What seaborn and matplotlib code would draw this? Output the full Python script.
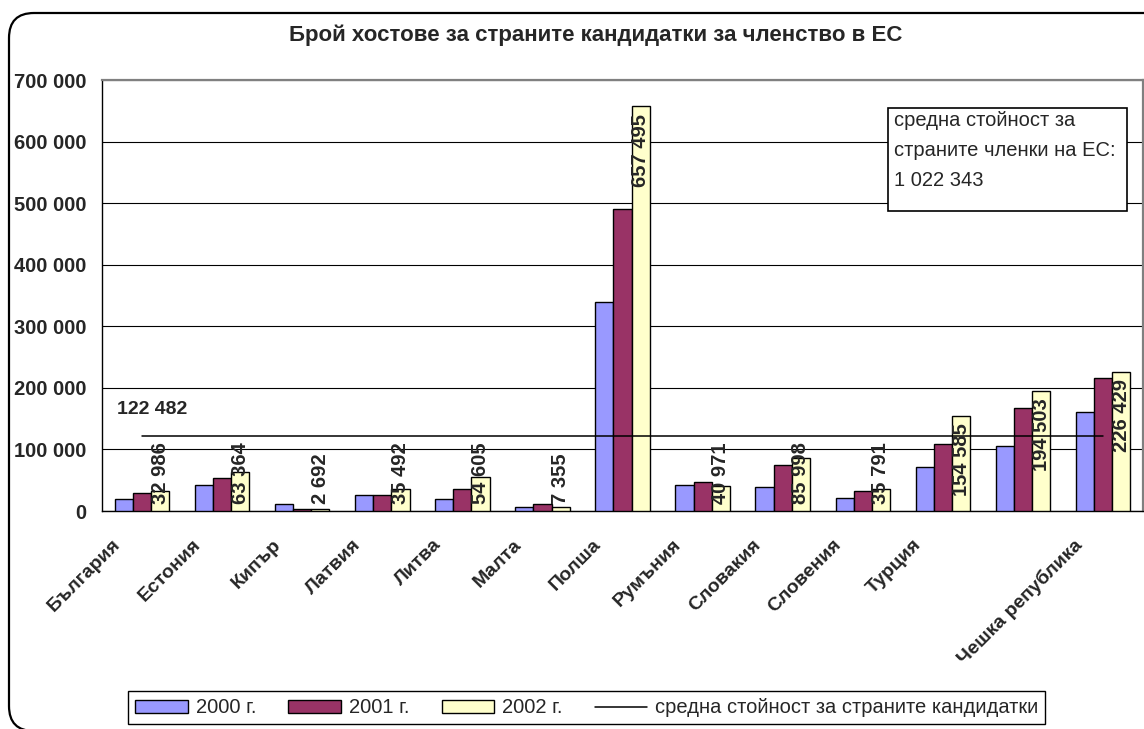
import numpy as np
import pandas as pd
import seaborn as sns
import matplotlib
matplotlib.use("Agg")
import matplotlib.pyplot as plt
import matplotlib.transforms as mtransforms
from matplotlib.patches import FancyBboxPatch, Rectangle, Patch
from matplotlib.lines import Line2D
from matplotlib.ticker import FuncFormatter, MultipleLocator

# data
countries = ['България', 'Естония', 'Кипър', 'Латвия', 'Литва', 'Малта', 'Полша',
             'Румъния', 'Словакия', 'Словения', 'Турция', 'Унгария', 'Чешка република']
# the label for Унгария is not shown in the original
tick_labels = ['България', 'Естония', 'Кипър', 'Латвия', 'Литва', 'Малта', 'Полша',
               'Румъния', 'Словакия', 'Словения', 'Турция', '', 'Чешка република']
years = ['2000 г.', '2001 г.', '2002 г.']
hosts_2000 = [20000, 41600, 10800, 26000, 20000, 7000, 340000, 41600, 38400, 21600, 72000, 105000, 161000]
hosts_2001 = [28600, 54000, 2800, 26000, 35000, 10800, 491000, 47000, 75000, 32000, 109000, 167500, 216000]
hosts_2002 = [32986, 63364, 2692, 35492, 54605, 7355, 657495, 40971, 85998, 35791, 154585, 194503, 226429]
avg_candidates = 122482
avg_eu = 1022343
colors = ['#9999FF', '#993366', '#FFFFCC']

title = 'Брой хостове за страните кандидатки за членство в ЕС'
avg_label = 'средна стойност за страните кандидатки'
eu_note = 'средна стойност за\nстраните членки на ЕС:\n' + f'{avg_eu:,}'.replace(',', ' ')


def fmt(v):
    return f'{int(v):,}'.replace(',', ' ')


df = pd.DataFrame({
    'Страна': countries * 3,
    'Хостове': hosts_2000 + hosts_2001 + hosts_2002,
    'Година': [y for y in years for _ in countries],
})

sns.set_theme(style='white')
plt.rcParams['font.family'] = ['Liberation Sans', 'DejaVu Sans']

fig = plt.figure(figsize=(11.44, 7.29), dpi=100)
ax = fig.add_axes([0.0892, 0.299, 0.910, 0.591])

sns.barplot(data=df, x='Страна', y='Хостове', hue='Година', palette=colors,
            width=0.68, edgecolor='black', linewidth=1, saturation=1,
            legend=False, ax=ax, zorder=3)

# average of the candidate countries
n = len(countries)
ax.plot(np.arange(n), np.full(n, avg_candidates), color='black', lw=1.1, zorder=5)
ax.text(-0.31, avg_candidates + 43000, fmt(avg_candidates), ha='left', va='center',
        fontsize=14, fontweight='bold')

# value labels on the 2002 bars
for bar, v in zip(ax.containers[2], hosts_2002):
    x = bar.get_x() + bar.get_width() / 2
    if v > 150000:
        ax.text(x, v - 12000, fmt(v), rotation=90, ha='center', va='top',
                fontsize=14.5, fontweight='bold', zorder=6)
    else:
        ax.text(x, 12000, fmt(v), rotation=90, ha='center', va='bottom',
                fontsize=14.5, fontweight='bold', zorder=6)

ax.set_ylim(0, 700000)
ax.set_xlim(-0.5, n - 0.5)
ax.yaxis.set_major_locator(MultipleLocator(100000))
ax.yaxis.set_major_formatter(FuncFormatter(lambda v, p: fmt(v)))
ax.yaxis.grid(True, color='black', lw=0.8)
ax.set_axisbelow(True)
ax.set_xlabel('')
ax.set_ylabel('')

ax.set_xticks(np.arange(n))
ax.set_xticklabels(tick_labels, rotation=45, ha='right', va='top',
                   rotation_mode='anchor', fontsize=14, fontweight='bold')
ax.set_xticks(np.arange(n + 1) - 0.5, minor=True)
ax.tick_params(axis='x', which='major', length=0, pad=18)
ax.tick_params(axis='x', which='minor', length=5, width=1, color='black', direction='out')
ax.tick_params(axis='y', length=5, width=1, color='black', direction='out', pad=6)
for lab in ax.get_yticklabels():
    lab.set_fontsize(14.5)
    lab.set_fontweight('bold')
shift = mtransforms.ScaledTranslation(-0.3, 0, fig.dpi_scale_trans)
for lab in ax.get_xticklabels():
    lab.set_transform(lab.get_transform() + shift)

for side in ['left', 'bottom']:
    ax.spines[side].set_color('black')
    ax.spines[side].set_linewidth(1)
for side in ['top', 'right']:
    ax.spines[side].set_color('#808080')
    ax.spines[side].set_linewidth(1.6)

# note box with the EU average
ax.add_patch(Rectangle((0.755, 0.696), 0.2296, 0.239, transform=ax.transAxes,
                       facecolor='white', edgecolor='black', lw=1.2, zorder=7))
ax.text(0.761, 0.929, eu_note, transform=ax.transAxes, ha='left', va='top',
        fontsize=14.5, linespacing=1.75, zorder=8)

fig.text(0.521, 0.951, title, ha='center', va='center', fontsize=16, fontweight='bold')

handles = [Patch(facecolor=c, edgecolor='black', lw=1) for c in colors]
handles.append(Line2D([0], [0], color='black', lw=1.1))
fig.legend(handles, years + [avg_label], loc='center', bbox_to_anchor=(0.513, 0.029),
           ncol=4, fontsize=14.5, frameon=True, fancybox=False, edgecolor='black',
           framealpha=1, handlelength=2.6, handleheight=0.6, handletextpad=0.4,
           columnspacing=1.6, borderpad=0.35)
fig.legends[0].get_frame().set_linewidth(1)

# rounded outer border of the chart area
fig.patches.append(FancyBboxPatch((0.09, -0.02), 11.7, 7.18,
                                  boxstyle='round,pad=0,rounding_size=0.25',
                                  transform=fig.dpi_scale_trans, facecolor='none',
                                  edgecolor='black', lw=1.6))

fig.savefig('out.png', dpi=100, facecolor='white')
